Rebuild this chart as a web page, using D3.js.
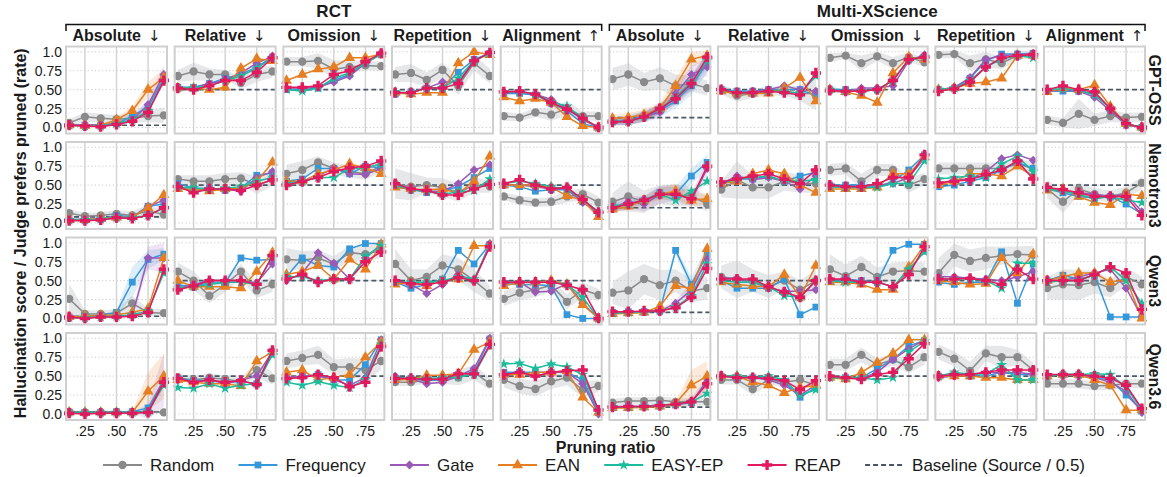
<!DOCTYPE html>
<html>
<head>
<meta charset="utf-8">
<script src="https://cdn.jsdelivr.net/npm/d3@7"></script>
<style>
  body { margin: 0; background: #fff; }
  svg text { font-family: "Liberation Sans", Arial, "DejaVu Sans", sans-serif; fill: #1a1a1a; }
</style>
</head>
<body>
<div id="chart"></div>
<script>
// pruning ratios on the x axis
var ratios = [0.125, 0.25, 0.375, 0.5, 0.625, 0.75, 0.875];
var datasets = ["RCT", "Multi-XScience"];
var metrics = ["Absolute", "Relative", "Omission", "Repetition", "Alignment"];
var arrows = ["↓", "↓", "↓", "↓", "↑"];
var models = ["GPT-OSS", "Nemotron3", "Qwen3", "Qwen3.6"];
var methods = ["Random", "Frequency", "Gate", "EAN", "EASY-EP", "REAP"];
var yTicks = [0, 0.25, 0.5, 0.75, 1.0];
var yTickLabels = ["0.0", "0.25", "0.50", "0.75", "1.0"];
var xTicks = [0.25, 0.5, 0.75];
var xTickLabels = [".25", ".50", ".75"];

// baseline per model, columns: RCT x5 then Multi-XScience x5
var baseline = [
  [0.03, 0.5, 0.5, 0.5, 0.5, 0.13, 0.5, 0.5, 0.5, 0.5],
  [0.08, 0.5, 0.5, 0.5, 0.5, 0.20, 0.5, 0.5, 0.5, 0.5],
  [0.03, 0.5, 0.5, 0.5, 0.5, 0.08, 0.5, 0.5, 0.5, 0.5],
  [0.03, 0.5, 0.5, 0.5, 0.5, 0.09, 0.5, 0.5, 0.5, 0.5]
];

var random = [
  [[0.06,0.14,0.12,0.11,0.12,0.15,0.16],[0.68,0.74,0.70,0.70,0.59,0.70,0.74],[0.87,0.87,0.88,0.77,0.80,0.82,0.81],[0.70,0.72,0.63,0.76,0.55,0.85,0.68],[0.15,0.13,0.20,0.17,0.25,0.15,0.15],
   [0.64,0.70,0.60,0.65,0.55,0.58,0.52],[0.50,0.42,0.45,0.48,0.48,0.45,0.45],[0.92,0.95,0.85,0.94,0.85,0.93,0.86],[0.96,0.97,0.85,0.90,0.85,0.95,0.97],[0.10,0.06,0.18,0.10,0.15,0.13,0.14]],
  [[0.13,0.09,0.10,0.12,0.10,0.16,0.11],[0.58,0.55,0.55,0.58,0.59,0.50,0.57],[0.65,0.70,0.80,0.72,0.68,0.65,0.75],[0.52,0.48,0.50,0.47,0.40,0.50,0.48],[0.35,0.30,0.27,0.28,0.35,0.38,0.27],
   [0.28,0.35,0.28,0.38,0.36,0.36,0.25],[0.44,0.57,0.47,0.47,0.55,0.52,0.52],[0.70,0.72,0.55,0.70,0.70,0.50,0.58],[0.72,0.72,0.72,0.72,0.72,0.78,0.72],[0.45,0.28,0.45,0.38,0.35,0.40,0.53]],
  [[0.26,0.06,0.06,0.07,0.20,0.08,0.07],[0.62,0.50,0.30,0.45,0.62,0.37,0.45],[0.78,0.77,0.80,0.72,0.87,0.85,0.90],[0.72,0.50,0.55,0.70,0.65,0.50,0.33],[0.26,0.34,0.38,0.44,0.22,0.38,0.31],
   [0.34,0.37,0.52,0.44,0.50,0.36,0.40],[0.55,0.52,0.50,0.42,0.50,0.38,0.50],[0.65,0.56,0.68,0.55,0.62,0.63,0.62],[0.60,0.84,0.76,0.80,0.83,0.85,0.84],[0.40,0.45,0.44,0.48,0.40,0.55,0.45]],
  [[0.03,0.02,0.02,0.02,0.02,0.03,0.02],[0.48,0.45,0.48,0.46,0.43,0.58,0.47],[0.70,0.74,0.78,0.62,0.62,0.58,0.70],[0.42,0.42,0.45,0.45,0.48,0.55,0.40],[0.45,0.37,0.33,0.43,0.48,0.32,0.37],
   [0.15,0.17,0.17,0.18,0.16,0.16,0.16],[0.45,0.45,0.33,0.45,0.42,0.45,0.38],[0.65,0.65,0.78,0.65,0.72,0.62,0.75],[0.82,0.73,0.57,0.80,0.75,0.75,0.58],[0.40,0.40,0.40,0.37,0.38,0.40,0.40]]
];

var frequency = [
  [[0.03,0.03,0.03,0.05,0.15,0.27,0.65],[0.53,0.53,0.58,0.65,0.70,0.80,0.93],[0.50,0.50,0.52,0.62,0.70,0.85,0.97],[0.44,0.47,0.52,0.52,0.73,0.90,0.98],[0.45,0.45,0.43,0.32,0.22,0.05,0.00],
   [0.08,0.10,0.15,0.22,0.35,0.55,0.85],[0.50,0.48,0.48,0.50,0.50,0.50,0.42],[0.50,0.50,0.48,0.50,0.62,0.90,0.93],[0.50,0.52,0.65,0.88,0.97,0.97,0.98],[0.48,0.48,0.48,0.45,0.25,0.05,0.00]],
  [[0.04,0.04,0.05,0.10,0.08,0.22,0.25],[0.52,0.46,0.46,0.43,0.46,0.63,0.66],[0.55,0.58,0.72,0.72,0.65,0.75,0.73],[0.48,0.45,0.40,0.42,0.48,0.60,0.72],[0.50,0.48,0.42,0.44,0.44,0.28,0.12],
   [0.20,0.25,0.30,0.40,0.38,0.62,0.80],[0.52,0.58,0.58,0.62,0.55,0.62,0.67],[0.50,0.50,0.50,0.48,0.55,0.70,0.90],[0.48,0.50,0.55,0.60,0.70,0.80,0.72],[0.45,0.40,0.35,0.33,0.35,0.25,0.12]],
  [[0.02,0.03,0.04,0.08,0.48,0.78,0.85],[0.44,0.43,0.47,0.47,0.80,0.77,0.78],[0.55,0.80,0.70,0.68,0.92,0.99,0.99],[0.48,0.40,0.45,0.52,0.90,0.72,0.98],[0.46,0.45,0.45,0.43,0.05,0.00,0.00],
   [0.08,0.09,0.09,0.10,0.90,0.45,0.85],[0.50,0.40,0.40,0.40,0.52,0.05,0.15],[0.50,0.52,0.50,0.48,0.90,0.98,0.98],[0.48,0.45,0.48,0.48,0.88,0.20,0.72],[0.50,0.57,0.52,0.57,0.02,0.02,0.02]],
  [[0.02,0.02,0.02,0.03,0.03,0.08,0.45],[0.47,0.44,0.45,0.42,0.43,0.40,0.83],[0.47,0.50,0.52,0.45,0.45,0.65,0.98],[0.45,0.47,0.45,0.45,0.52,0.55,0.99],[0.55,0.55,0.55,0.55,0.55,0.45,0.02],
   [0.09,0.10,0.10,0.12,0.12,0.15,0.45],[0.50,0.48,0.48,0.48,0.42,0.22,0.35],[0.48,0.48,0.48,0.60,0.72,0.90,0.97],[0.50,0.52,0.50,0.50,0.55,0.52,0.52],[0.50,0.52,0.52,0.48,0.45,0.25,0.05]]
];

var gate = [
  [[0.04,0.03,0.04,0.05,0.10,0.30,0.70],[0.53,0.52,0.58,0.62,0.72,0.85,0.94],[0.52,0.52,0.53,0.60,0.68,0.85,0.98],[0.46,0.46,0.52,0.60,0.60,0.88,0.98],[0.46,0.47,0.44,0.37,0.25,0.10,0.00],
   [0.08,0.09,0.14,0.20,0.45,0.70,0.80],[0.50,0.45,0.48,0.50,0.55,0.50,0.48],[0.48,0.47,0.52,0.52,0.55,0.88,0.96],[0.50,0.53,0.66,0.90,0.95,0.96,0.98],[0.48,0.50,0.48,0.40,0.22,0.03,0.00]],
  [[0.05,0.05,0.05,0.06,0.07,0.22,0.30],[0.48,0.42,0.45,0.45,0.42,0.60,0.68],[0.52,0.53,0.62,0.73,0.65,0.64,0.72],[0.50,0.45,0.42,0.42,0.52,0.70,0.77],[0.50,0.50,0.48,0.45,0.45,0.27,0.15],
   [0.20,0.28,0.25,0.37,0.40,0.30,0.72],[0.52,0.62,0.57,0.60,0.55,0.45,0.62],[0.48,0.48,0.48,0.50,0.52,0.60,0.86],[0.52,0.57,0.58,0.68,0.85,0.90,0.83],[0.45,0.43,0.40,0.38,0.35,0.38,0.15]],
  [[0.01,0.01,0.02,0.02,0.04,0.80,0.80],[0.40,0.45,0.50,0.50,0.50,0.47,0.72],[0.50,0.60,0.87,0.73,0.52,0.80,0.98],[0.48,0.45,0.33,0.45,0.58,0.50,0.99],[0.48,0.48,0.35,0.36,0.46,0.20,0.00],
   [0.08,0.08,0.09,0.10,0.20,0.38,0.78],[0.53,0.53,0.48,0.40,0.36,0.36,0.38],[0.52,0.50,0.48,0.48,0.42,0.62,0.90],[0.55,0.55,0.53,0.52,0.50,0.55,0.62],[0.50,0.50,0.55,0.60,0.65,0.40,0.02]],
  [[0.01,0.01,0.01,0.01,0.02,0.03,0.45],[0.45,0.42,0.45,0.40,0.45,0.50,0.83],[0.48,0.50,0.50,0.45,0.38,0.48,0.98],[0.50,0.46,0.40,0.42,0.50,0.60,1.00],[0.52,0.55,0.50,0.55,0.55,0.40,0.00],
   [0.10,0.10,0.10,0.12,0.12,0.16,0.42],[0.50,0.50,0.48,0.45,0.38,0.25,0.38],[0.48,0.47,0.47,0.55,0.72,0.86,0.98],[0.48,0.50,0.52,0.55,0.54,0.55,0.52],[0.50,0.52,0.50,0.48,0.42,0.30,0.02]]
];

var ean = [
  [[0.03,0.02,0.03,0.10,0.22,0.50,0.66],[0.52,0.52,0.50,0.53,0.78,0.91,0.88],[0.62,0.70,0.77,0.80,0.92,0.92,0.97],[0.46,0.44,0.46,0.46,0.85,1.00,0.96],[0.40,0.35,0.38,0.33,0.14,0.02,0.00],
   [0.12,0.13,0.17,0.25,0.55,0.90,0.95],[0.48,0.45,0.45,0.45,0.52,0.66,0.35],[0.50,0.47,0.42,0.33,0.72,0.93,0.90],[0.50,0.52,0.58,0.60,0.65,0.95,0.95],[0.47,0.52,0.50,0.56,0.28,0.05,0.00]],
  [[0.04,0.04,0.06,0.07,0.08,0.20,0.37],[0.45,0.45,0.42,0.45,0.46,0.55,0.80],[0.55,0.55,0.65,0.70,0.78,0.73,0.65],[0.47,0.45,0.44,0.45,0.39,0.55,0.88],[0.50,0.50,0.50,0.47,0.36,0.30,0.08],
   [0.18,0.22,0.30,0.38,0.42,0.30,0.32],[0.52,0.55,0.65,0.70,0.65,0.50,0.40],[0.45,0.45,0.45,0.47,0.65,0.65,0.87],[0.50,0.55,0.65,0.65,0.62,0.75,0.62],[0.43,0.45,0.35,0.27,0.24,0.38,0.36]],
  [[0.02,0.03,0.04,0.05,0.08,0.13,0.80],[0.50,0.42,0.42,0.42,0.40,0.62,0.87],[0.58,0.62,0.70,0.52,0.78,0.65,0.98],[0.45,0.48,0.43,0.50,0.52,0.96,0.96],[0.43,0.48,0.48,0.50,0.45,0.18,0.00],
   [0.06,0.07,0.08,0.16,0.43,0.40,0.92],[0.48,0.45,0.43,0.42,0.58,0.28,0.70],[0.48,0.48,0.45,0.38,0.38,0.68,0.97],[0.50,0.48,0.45,0.46,0.80,0.60,0.85],[0.50,0.55,0.60,0.60,0.48,0.52,0.00]],
  [[0.02,0.02,0.02,0.02,0.02,0.30,0.50],[0.45,0.42,0.40,0.40,0.37,0.70,0.82],[0.55,0.58,0.45,0.48,0.52,0.75,0.95],[0.45,0.46,0.51,0.51,0.53,0.85,0.95],[0.52,0.52,0.55,0.55,0.57,0.22,0.02],
   [0.08,0.08,0.09,0.10,0.14,0.38,0.50],[0.50,0.50,0.42,0.38,0.28,0.35,0.38],[0.48,0.46,0.55,0.68,0.80,0.98,0.98],[0.50,0.50,0.50,0.48,0.48,0.45,0.45],[0.50,0.52,0.52,0.45,0.38,0.05,0.05]]
];

var easyEp = [
  [[0.03,0.02,0.02,0.05,0.10,0.22,0.62],[0.52,0.52,0.55,0.62,0.68,0.78,0.92],[0.50,0.48,0.52,0.65,0.72,0.85,0.97],[0.47,0.46,0.52,0.52,0.65,0.88,0.98],[0.46,0.48,0.44,0.34,0.28,0.12,0.00],
   [0.08,0.08,0.14,0.25,0.40,0.60,0.88],[0.50,0.46,0.46,0.48,0.48,0.45,0.68],[0.50,0.48,0.48,0.50,0.62,0.90,0.93],[0.50,0.52,0.62,0.80,0.90,0.95,0.92],[0.50,0.51,0.49,0.43,0.25,0.04,0.01]],
  [[0.04,0.04,0.05,0.07,0.07,0.10,0.20],[0.48,0.46,0.45,0.46,0.48,0.55,0.60],[0.52,0.55,0.60,0.60,0.72,0.73,0.78],[0.50,0.44,0.42,0.38,0.41,0.43,0.58],[0.52,0.55,0.52,0.48,0.45,0.31,0.15],
   [0.22,0.25,0.30,0.38,0.30,0.42,0.55],[0.52,0.58,0.60,0.62,0.55,0.55,0.57],[0.48,0.47,0.47,0.47,0.52,0.52,0.82],[0.58,0.60,0.62,0.60,0.78,0.88,0.68],[0.45,0.42,0.38,0.32,0.35,0.30,0.27]],
  [[0.01,0.01,0.02,0.03,0.05,0.10,0.60],[0.40,0.42,0.45,0.48,0.48,0.45,0.82],[0.55,0.55,0.50,0.52,0.52,0.82,0.96],[0.48,0.48,0.48,0.50,0.55,0.52,0.96],[0.48,0.48,0.48,0.48,0.45,0.28,0.00],
   [0.07,0.08,0.09,0.10,0.15,0.30,0.72],[0.50,0.48,0.48,0.42,0.30,0.28,0.50],[0.50,0.48,0.48,0.48,0.42,0.65,0.88],[0.52,0.52,0.52,0.50,0.40,0.73,0.73],[0.48,0.50,0.50,0.58,0.68,0.50,0.20]],
  [[0.02,0.02,0.02,0.02,0.02,0.03,0.38],[0.35,0.34,0.40,0.34,0.38,0.40,0.78],[0.42,0.38,0.43,0.38,0.35,0.45,0.92],[0.48,0.47,0.47,0.48,0.49,0.52,0.90],[0.66,0.67,0.60,0.66,0.62,0.52,0.05],
   [0.09,0.09,0.10,0.11,0.13,0.16,0.27],[0.50,0.50,0.48,0.50,0.45,0.25,0.32],[0.48,0.48,0.48,0.45,0.48,0.82,0.96],[0.50,0.55,0.52,0.53,0.65,0.45,0.45],[0.50,0.52,0.52,0.53,0.52,0.35,0.05]]
];

var reap = [
  [[0.03,0.02,0.01,0.04,0.08,0.20,0.62],[0.52,0.50,0.55,0.62,0.62,0.73,0.92],[0.53,0.53,0.55,0.70,0.75,0.87,0.98],[0.46,0.46,0.52,0.52,0.58,0.88,0.99],[0.47,0.48,0.44,0.33,0.24,0.12,0.00],
   [0.07,0.08,0.14,0.25,0.38,0.58,0.93],[0.50,0.46,0.46,0.48,0.46,0.43,0.72],[0.49,0.48,0.48,0.50,0.62,0.90,0.93],[0.48,0.51,0.60,0.80,0.92,0.95,0.96],[0.50,0.55,0.50,0.47,0.25,0.05,0.00]],
  [[0.03,0.03,0.04,0.07,0.06,0.10,0.20],[0.48,0.40,0.45,0.45,0.43,0.50,0.57],[0.50,0.55,0.60,0.68,0.73,0.75,0.82],[0.52,0.45,0.43,0.37,0.37,0.45,0.51],[0.52,0.57,0.50,0.45,0.47,0.31,0.14],
   [0.20,0.25,0.30,0.38,0.38,0.32,0.75],[0.54,0.58,0.62,0.65,0.58,0.52,0.70],[0.50,0.48,0.48,0.52,0.60,0.60,0.90],[0.53,0.55,0.57,0.64,0.70,0.82,0.58],[0.47,0.44,0.40,0.35,0.35,0.35,0.10]],
  [[0.02,0.00,0.02,0.02,0.03,0.08,0.65],[0.38,0.43,0.50,0.50,0.50,0.45,0.83],[0.52,0.58,0.48,0.52,0.52,0.75,0.88],[0.50,0.46,0.45,0.48,0.54,0.50,0.95],[0.48,0.48,0.48,0.48,0.44,0.38,0.00],
   [0.09,0.09,0.10,0.10,0.14,0.28,0.66],[0.52,0.52,0.52,0.42,0.35,0.28,0.50],[0.52,0.52,0.48,0.48,0.42,0.58,0.95],[0.52,0.52,0.53,0.50,0.45,0.65,0.52],[0.50,0.50,0.50,0.58,0.68,0.60,0.12]],
  [[0.01,0.00,0.01,0.01,0.01,0.02,0.42],[0.47,0.42,0.45,0.42,0.44,0.39,0.84],[0.47,0.48,0.52,0.48,0.36,0.42,0.89],[0.47,0.47,0.46,0.46,0.53,0.53,0.92],[0.52,0.55,0.50,0.55,0.57,0.58,0.05],
   [0.09,0.10,0.10,0.11,0.13,0.16,0.40],[0.50,0.48,0.48,0.47,0.44,0.32,0.44],[0.50,0.48,0.46,0.52,0.55,0.73,0.93],[0.50,0.52,0.52,0.55,0.58,0.58,0.58],[0.52,0.52,0.52,0.50,0.47,0.38,0.07]]
];

// half-width of the shaded band around Random
var randomBand = [
  [[.05,.06,.06,.05,.05,.08,.10],[.08,.12,.08,.06,.08,.10,.08],[.06,.06,.10,.12,.08,.06,.06],[.10,.12,.10,.10,.12,.10,.10],[.06,.05,.06,.08,.10,.06,.06],
   [.15,.15,.12,.15,.15,.10,.10],[.06,.08,.06,.06,.06,.10,.22],[.06,.04,.10,.06,.08,.06,.06],[.05,.05,.10,.10,.08,.06,.05],[.06,.06,.20,.08,.08,.06,.06]],
  [[.05,.04,.04,.05,.05,.08,.06],[.05,.08,.08,.08,.08,.12,.08],[.12,.12,.08,.08,.08,.08,.08],[.20,.18,.10,.12,.12,.10,.08],[.05,.06,.06,.06,.08,.08,.08],
   [.12,.20,.15,.12,.15,.12,.10],[.10,.25,.15,.15,.12,.12,.12],[.08,.08,.10,.08,.08,.10,.08],[.08,.08,.08,.08,.08,.08,.08],[.12,.15,.08,.08,.08,.08,.08]],
  [[.20,.05,.05,.05,.10,.05,.05],[.12,.12,.10,.10,.10,.10,.10],[.15,.12,.10,.10,.10,.10,.10],[.20,.15,.10,.15,.15,.15,.10],[.10,.10,.10,.08,.10,.10,.08],
   [.15,.25,.20,.20,.15,.15,.15],[.15,.25,.15,.15,.12,.12,.15],[.20,.15,.15,.12,.12,.12,.12],[.20,.15,.15,.15,.12,.10,.12],[.15,.20,.20,.15,.12,.12,.10]],
  [[.02,.02,.02,.02,.02,.02,.02],[.05,.05,.05,.05,.05,.10,.08],[.10,.10,.12,.10,.12,.15,.12],[.05,.05,.05,.05,.10,.10,.08],[.10,.10,.10,.10,.10,.10,.08],
   [.05,.05,.05,.05,.05,.05,.05],[.06,.06,.08,.06,.06,.08,.08],[.08,.08,.10,.08,.08,.08,.10],[.10,.10,.12,.10,.15,.10,.10],[.06,.06,.06,.06,.06,.06,.06]]
];

// visible colored bands: [model, column, method, half-widths]
var methodBands = [
  [0, 0, 1, [.01,.01,.01,.02,.04,.06,.10]],
  [0, 0, 2, [.01,.01,.01,.02,.04,.08,.12]],
  [0, 0, 3, [.01,.01,.01,.03,.06,.10,.12]],
  [0, 5, 1, [.05,.06,.07,.08,.10,.12,.12]],
  [0, 5, 2, [.05,.06,.07,.08,.10,.12,.12]],
  [0, 5, 3, [.05,.06,.07,.08,.10,.10,.06]],
  [0, 5, 4, [.04,.05,.06,.07,.08,.10,.10]],
  [0, 5, 5, [.04,.05,.06,.07,.08,.10,.06]],
  [1, 5, 1, [.05,.05,.06,.08,.10,.10,.10]],
  [1, 5, 2, [.08,.08,.10,.12,.10,.10,.10]],
  [1, 5, 3, [.04,.05,.05,.08,.10,.08,.08]],
  [2, 0, 1, [.00,.00,.01,.03,.20,.12,.08]],
  [2, 0, 2, [.00,.00,.00,.00,.02,.15,.20]],
  [2, 5, 1, [.01,.01,.01,.02,.05,.10,.12]],
  [2, 5, 2, [.01,.01,.01,.02,.04,.10,.12]],
  [3, 0, 3, [.00,.00,.00,.00,.01,.25,.30]],
  [3, 0, 2, [.00,.00,.00,.00,.01,.10,.35]],
  [3, 5, 3, [.01,.01,.01,.01,.03,.20,.20]],
  [3, 5, 5, [.01,.01,.01,.01,.02,.05,.10]]
];

var series = [random, frequency, gate, ean, easyEp, reap];
var colors = ["#8a8a8a", "#3498db", "#9b59b6", "#e67e22", "#1abc9c", "#e3195e"];
var shapes = [d3.symbolCircle, d3.symbolSquare, d3.symbolSquare, d3.symbolTriangle, d3.symbolStar, d3.symbolCross];
var sizes = [54, 46, 40, 52, 38, 58];
var rotations = [0, 0, 45, 0, 0, 0];

var width = 1167, height = 477;
var left0 = 66, top0 = 46.5, colStep = 108.67, rowStep = 95.5;
var panelW = 101, panelH = 87;

var svg = d3.select("#chart")
    .append("svg")
    .attr("width", width)
    .attr("height", height);

var x = d3.scaleLinear().domain([0.1, 0.9]).range([0, panelW]);
var y = d3.scaleLinear().domain([-0.08, 1.07]).range([panelH, 0]);

var line = d3.line()
    .x(function(d, i) { return x(ratios[i]) })
    .y(function(d) { return y(d) });

function bandArea(vals) {
    return d3.area()
        .x(function(d, i) { return x(ratios[i]) })
        .y0(function(d, i) { return y(Math.max(-0.08, vals[i] - d)) })
        .y1(function(d, i) { return y(Math.min(1.07, vals[i] + d)) });
}

function marker(s) {
    return d3.symbol().type(shapes[s]).size(sizes[s]);
}

models.forEach(function(model, r) {
    for (var c = 0; c < 10; c++) {
        var g = svg.append("g")
            .attr("transform", "translate(" + (left0 + c * colStep) + "," + (top0 + r * rowStep) + ")");

        g.append("rect").attr("width", panelW).attr("height", panelH).attr("fill", "#fff");

        // grid
        g.selectAll(".hgrid").data(yTicks).enter().append("line")
            .attr("x1", 0).attr("x2", panelW)
            .attr("y1", function(d) { return y(d) }).attr("y2", function(d) { return y(d) })
            .attr("stroke", "#c4c4c4").attr("stroke-width", 0.9).attr("stroke-dasharray", "1.2,2.4");
        g.selectAll(".vgrid").data(xTicks).enter().append("line")
            .attr("x1", function(d) { return x(d) }).attr("x2", function(d) { return x(d) })
            .attr("y1", 0).attr("y2", panelH)
            .attr("stroke", "#d2d2d2").attr("stroke-width", 1.4);

        // bands
        g.append("path")
            .attr("d", bandArea(random[r][c])(randomBand[r][c]))
            .attr("fill", "#c5c9cd").attr("opacity", 0.45);
        methodBands.forEach(function(b) {
            if (b[0] == r && b[1] == c) {
                g.append("path")
                    .attr("d", bandArea(series[b[2]][r][c])(b[3]))
                    .attr("fill", colors[b[2]]).attr("opacity", 0.16);
            }
        });

        // baseline
        g.append("line")
            .attr("x1", 0).attr("x2", panelW)
            .attr("y1", y(baseline[r][c])).attr("y2", y(baseline[r][c]))
            .attr("stroke", "#4b5667").attr("stroke-width", 1.6).attr("stroke-dasharray", "5,3");

        series.forEach(function(sv, s) {
            var vals = sv[r][c];
            g.append("path")
                .attr("d", line(vals))
                .attr("fill", "none")
                .attr("stroke", colors[s])
                .attr("stroke-width", 1.5);
            g.selectAll(".m" + s).data(vals).enter().append("path")
                .attr("d", marker(s))
                .attr("transform", function(d, i) {
                    return "translate(" + x(ratios[i]) + "," + y(d) + ") rotate(" + rotations[s] + ")";
                })
                .attr("fill", colors[s]);
        });

        g.append("rect").attr("width", panelW).attr("height", panelH)
            .attr("fill", "none").attr("stroke", "#cfcfcf").attr("stroke-width", 2);

        if (c == 0) {
            g.selectAll(".yt").data(yTicks).enter().append("text")
                .attr("x", -4).attr("y", function(d) { return y(d) })
                .attr("dy", "0.36em")
                .attr("text-anchor", "end")
                .style("font-size", "14px")
                .text(function(d, i) { return yTickLabels[i] });
        }
        if (r == models.length - 1) {
            g.selectAll(".xt").data(xTicks).enter().append("text")
                .attr("x", function(d) { return x(d) }).attr("y", panelH + 11)
                .attr("dy", "0.36em")
                .attr("text-anchor", "middle")
                .style("font-size", "14px")
                .text(function(d, i) { return xTickLabels[i] });
        }
        if (r == 0) {
            var t = g.append("text")
                .attr("x", panelW / 2).attr("y", -5.5)
                .attr("text-anchor", "middle")
                .style("font-size", "16px").style("font-weight", "bold");
            t.append("tspan").text(metrics[c % 5]);
            t.append("tspan").attr("dx", 7)
                .style("font-family", "'DejaVu Sans'")
                .style("font-weight", "normal")
                .style("font-size", "15px")
                .style("fill", "#1a1a1a")
                .text(arrows[c % 5]);
        }
        if (c == 9) {
            svg.append("text")
                .attr("transform", "translate(" + (left0 + 9 * colStep + panelW + 10) + "," + (top0 + r * rowStep + panelH / 2) + ") rotate(90)")
                .attr("text-anchor", "middle")
                .attr("dy", "0.36em")
                .style("font-size", "16px").style("font-weight", "bold")
                .text(model);
        }
    }
});

// dataset headers with brackets
datasets.forEach(function(name, k) {
    var x0 = left0 + k * 5 * colStep;
    var x1 = x0 + 4 * colStep + panelW;
    svg.append("path")
        .attr("d", "M" + x0 + ",31V24.5H" + x1 + "V31")
        .attr("fill", "none").attr("stroke", "#111").attr("stroke-width", 1.5);
    svg.append("text")
        .attr("x", (x0 + x1) / 2).attr("y", 17)
        .attr("text-anchor", "middle")
        .style("font-size", "17px").style("font-weight", "bold")
        .text(name);
});

// axis labels
svg.append("text")
    .attr("transform", "translate(20," + (top0 + (3 * rowStep + panelH) / 2) + ") rotate(-90)")
    .attr("text-anchor", "middle")
    .attr("dy", "0.36em")
    .style("font-size", "16px").style("font-weight", "bold")
    .text("Hallucination score / Judge prefers pruned (rate)");

svg.append("text")
    .attr("x", (left0 + 9 * colStep + panelW + left0) / 2).attr("y", 453)
    .attr("text-anchor", "middle")
    .style("font-size", "16px").style("font-weight", "bold")
    .text("Pruning ratio");

// legend
var legendNames = methods.concat(["Baseline (Source / 0.5)"]);
var legend = svg.append("g").attr("transform", "translate(0,465)");
var items = legend.selectAll(".item").data(legendNames).enter().append("g");
items.append("text")
    .attr("dy", "0.36em")
    .style("font-size", "17px")
    .text(function(d) { return d });
var handle = 39, pad = 8;
var widths = [];
items.select("text").each(function() { widths.push(this.getComputedTextLength()) });
var span = 1085 - 103;
var gap = (span - d3.sum(widths) - legendNames.length * (handle + pad)) / (legendNames.length - 1);
var pos = 103;
items.each(function(d, i) {
    var it = d3.select(this).attr("transform", "translate(" + pos + ",0)");
    it.select("text").attr("x", handle + pad);
    if (i < methods.length) {
        it.append("line").attr("x1", 0).attr("x2", handle)
            .attr("stroke", colors[i]).attr("stroke-width", 2);
        it.append("path").attr("d", marker(i))
            .attr("transform", "translate(" + handle / 2 + ",0) rotate(" + rotations[i] + ")")
            .attr("fill", colors[i]);
    } else {
        it.append("line").attr("x1", 0).attr("x2", handle)
            .attr("stroke", "#4b5667").attr("stroke-width", 1.8).attr("stroke-dasharray", "5,3");
    }
    pos += handle + pad + widths[i] + gap;
});
</script>
</body>
</html>
